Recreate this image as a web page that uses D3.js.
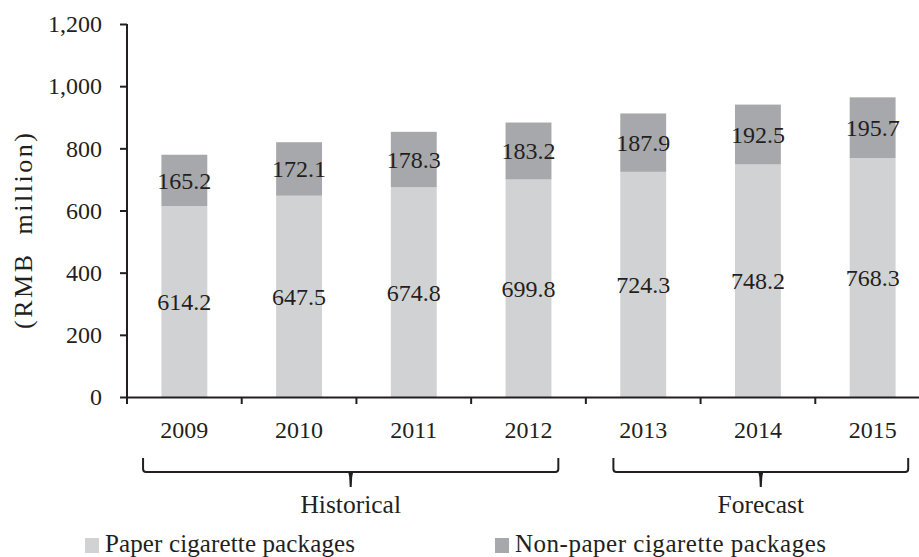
<!DOCTYPE html>
<html><head><meta charset="utf-8">
<script src="https://cdn.jsdelivr.net/npm/d3@7"></script>
<style>body{margin:0;background:#fff}svg{display:block}text{font-family:"Liberation Serif","Times New Roman",serif;fill:#231f20}</style>
</head><body><svg id="c" width="919" height="557"></svg>
<script>
const years = ["2009","2010","2011","2012","2013","2014","2015"];
const paper = [614.2,647.5,674.8,699.8,724.3,748.2,768.3];
const nonPaper = [165.2,172.1,178.3,183.2,187.9,192.5,195.7];
const yTicks = [0,200,400,600,800,1000,1200];
const seriesNames = ["Paper cigarette packages","Non-paper cigarette packages"];
const periodNames = ["Historical","Forecast"];
const periodFrom = ["2009","2013"];
const periodTo = ["2012","2015"];
const colors = ["#d1d2d4","#a7a8ab"];
const ink = "#231f20";

const svg = d3.select("#c");
const x = d3.scaleBand().domain(years).range([127,930]).padding(0);
const y = d3.scaleLinear().domain([0,1200]).range([397,24]);
const bw = x.bandwidth()*0.4;

const data = years.map((yr,i)=>({yr, p:paper[i], n:nonPaper[i]}));
const g = svg.append("g");
g.selectAll("rect.p").data(data).join("rect").attr("class","p")
  .attr("x",d=>x(d.yr)+(x.bandwidth()-bw)/2).attr("width",bw)
  .attr("y",d=>y(d.p)).attr("height",d=>y(0)-y(d.p)).attr("fill",colors[0]);
g.selectAll("rect.n").data(data).join("rect").attr("class","n")
  .attr("x",d=>x(d.yr)+(x.bandwidth()-bw)/2).attr("width",bw)
  .attr("y",d=>y(d.p+d.n)).attr("height",d=>y(d.p)-y(d.p+d.n)).attr("fill",colors[1]);
g.selectAll("text.pl").data(data).join("text").attr("class","pl")
  .attr("x",d=>x(d.yr)+x.bandwidth()/2).attr("y",d=>y(d.p/2)).attr("dy","0.35em")
  .attr("text-anchor","middle").attr("font-size",24).text(d=>d.p.toFixed(1));
g.selectAll("text.nl").data(data).join("text").attr("class","nl")
  .attr("x",d=>x(d.yr)+x.bandwidth()/2).attr("y",d=>y(d.p+d.n/2)).attr("dy","0.35em")
  .attr("text-anchor","middle").attr("font-size",24).text(d=>d.n.toFixed(1));

// y axis
const ya = svg.append("g").attr("transform","translate(127,0)")
  .call(d3.axisLeft(y).tickValues(yTicks).tickFormat(d3.format(",")).tickSize(7).tickSizeOuter(0));
ya.select(".domain").attr("stroke",ink).attr("stroke-width",2).attr("d","M0,24V403");
ya.selectAll(".tick line").attr("stroke",ink).attr("stroke-width",2);
ya.selectAll(".tick text").attr("font-size",24).attr("font-family",null).attr("fill",ink).attr("x",-25);

// x axis
const xa = svg.append("g").attr("transform","translate(0,397)")
  .call(d3.axisBottom(x).tickSize(0).tickSizeOuter(0));
xa.select(".domain").attr("stroke",ink).attr("stroke-width",2);
xa.selectAll(".tick text").attr("font-size",24).attr("font-family",null).attr("fill",ink).attr("y",0).attr("dy","41");
xa.selectAll("line.sep").data(years).join("line").attr("class","sep")
  .attr("x1",d=>x(d)).attr("x2",d=>x(d)).attr("y1",0).attr("y2",7)
  .attr("stroke",ink).attr("stroke-width",2);

// y label
svg.append("text").attr("transform","translate(32,231) rotate(-90)")
  .attr("text-anchor","middle").attr("font-size",26)
  .attr("xml:space","preserve")
  .attr("textLength",196).attr("lengthAdjust","spacing")
  .text("(RMB  million)");

// braces
const bwd = x.bandwidth();
const braceEnds = [[x(periodFrom[0])+bwd*0.14, x(periodTo[0])+bwd*0.76],
                   [x(periodFrom[1])+bwd*0.24, x(periodTo[1])+bwd*0.81]];
periodNames.forEach((name,i)=>{
  const [x0,x1] = braceEnds[i];
  const xm = (x0+x1)/2, top=458, yl=472, r=3;
  svg.append("path")
    .attr("d",`M${x0},${top}V${yl-r}Q${x0},${yl} ${x0+r},${yl}H${x1-r}Q${x1},${yl} ${x1},${yl-r}V${top}`)
    .attr("fill","none").attr("stroke",ink).attr("stroke-width",2);
  svg.append("path").attr("d",`M${xm-2.5},${yl}L${xm-1.5},${yl+5}L${xm-1},${yl+15}L${xm+1},${yl+15}L${xm+1.5},${yl+5}L${xm+2.5},${yl}Z`)
    .attr("fill",ink);
  svg.append("text").attr("x",xm).attr("y",513).attr("text-anchor","middle").attr("font-size",25.5).text(name);
});

// legend
const legX = [85,495];
const legLen = [250,311];
seriesNames.forEach((s,i)=>{
  svg.append("rect").attr("x",legX[i]).attr("y",538).attr("width",14).attr("height",15).attr("fill",colors[i]);
  svg.append("text").attr("x",legX[i]+20).attr("y",552).attr("font-size",25)
    .attr("textLength",legLen[i]).attr("lengthAdjust","spacing").text(s);
});
</script></body></html>
